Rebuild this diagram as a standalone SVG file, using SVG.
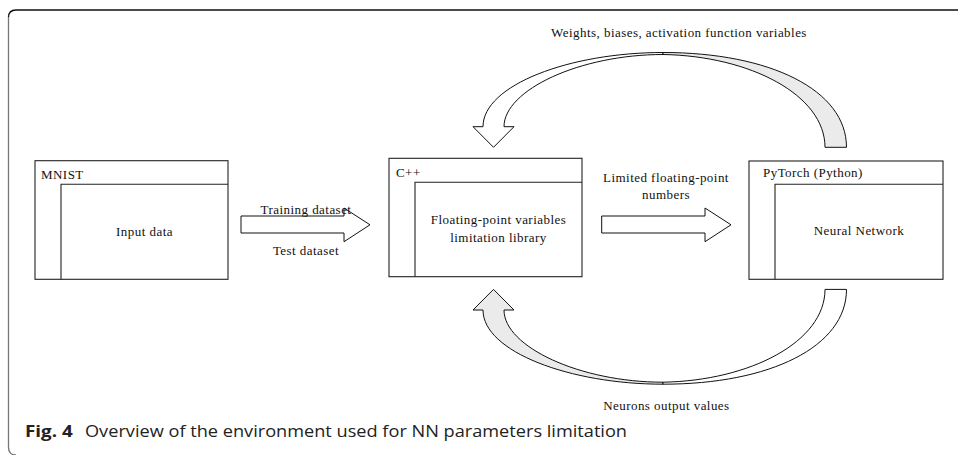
<svg xmlns="http://www.w3.org/2000/svg" width="958" height="455" viewBox="0 0 958 455">
<style>
  .box{fill:#fff;stroke:#222;stroke-width:1.1}
  .inner{fill:none;stroke:#222;stroke-width:1.1}
  .t{font-family:"Liberation Serif","Times New Roman",serif;font-size:13px;letter-spacing:0.45px;fill:#111}
  .c{text-anchor:middle}
  .arr{fill:#fff;stroke:#111;stroke-width:1;stroke-linejoin:miter}
  .w{fill:#fff;stroke:#111;stroke-width:1}
  .g{fill:#ebebeb;stroke:#111;stroke-width:1}
  .cap{font-family:"Open Sans","Noto Sans",sans-serif;font-size:16px;fill:#222}
</style>
<rect width="958" height="455" fill="#fff"/>
<g id="frame" fill="none">
  <path d="M958 10 H16 Q8.5 10 8.5 17.5" stroke="#111" stroke-width="1.3"/>
  <path d="M8.5 17.5 V447 Q8.5 455 16 455" stroke="#777" stroke-width="1.3"/>
</g>
<g id="mnist">
  <rect class="box" x="35" y="160.7" width="193" height="118.6"/>
  <path class="inner" d="M61 279.3 V184.3 H228"/>
  <text class="t" x="41" y="179">MNIST</text>
  <text class="t c" x="144.5" y="236">Input data</text>
</g>
<g id="cpp">
  <rect class="box" x="389" y="158.3" width="193" height="118.4"/>
  <path class="inner" d="M415 276.7 V182.3 H582"/>
  <text class="t" x="396" y="176.5">C++</text>
  <text class="t c" x="498.5" y="224">Floating-point variables</text>
  <text class="t c" x="498.5" y="241.7">limitation library</text>
</g>
<g id="pytorch">
  <rect class="box" x="749" y="161" width="194" height="118.3"/>
  <path class="inner" d="M775 279.3 V184.3 H943"/>
  <text class="t" x="763" y="176.7">PyTorch (Python)</text>
  <text class="t c" x="859" y="235">Neural Network</text>
</g>
<g id="connectors">
  <polygon class="arr" points="241,216 344,216 344,208 370,224.8 344,241.7 344,233 241,233"/>
  <text class="t c" x="306" y="214">Training dataset</text>
  <text class="t c" x="306" y="255">Test dataset</text>
  <polygon class="arr" points="601.7,216 705,216 705,208 731,224.8 705,241.7 705,233 601.7,233"/>
  <text class="t c" x="666" y="181.7">Limited floating-point</text>
  <text class="t c" x="666" y="199">numbers</text>
  <g id="topArrow">
    <path class="w" d="M504 126.7 H514 L493.5 147.3 L473 126.7 H483 C483 85 570 52.5 663 52.5 L663 54.5 C580 54.5 504 90 504 126.7 Z"/>
    <path class="g" d="M663 52.5 C770 52.5 846.5 90 846.5 147.3 H825 C825 95 750 56 663 54.5 Z"/>
  </g>
  <text class="t c" x="679" y="37">Weights, biases, activation function variables</text>
  <g id="bottomArrow" transform="translate(0,436.7) scale(1,-1)">
    <path class="g" d="M504 126.7 H514 L493.5 147.3 L473 126.7 H483 C483 85 570 52.5 663 52.5 L663 54.5 C580 54.5 504 90 504 126.7 Z"/>
    <path class="w" d="M663 52.5 C770 52.5 846.5 90 846.5 147.3 H825 C825 95 750 56 663 54.5 Z"/>
  </g>
  <text class="t c" x="666.4" y="410">Neurons output values</text>
</g>
<g id="caption">
  <text class="cap" x="25" y="437" font-weight="bold" textLength="47.7" lengthAdjust="spacingAndGlyphs">Fig. 4</text>
  <text class="cap" x="85" y="437" textLength="542" lengthAdjust="spacingAndGlyphs">Overview of the environment used for NN parameters limitation</text>
</g>
</svg>
